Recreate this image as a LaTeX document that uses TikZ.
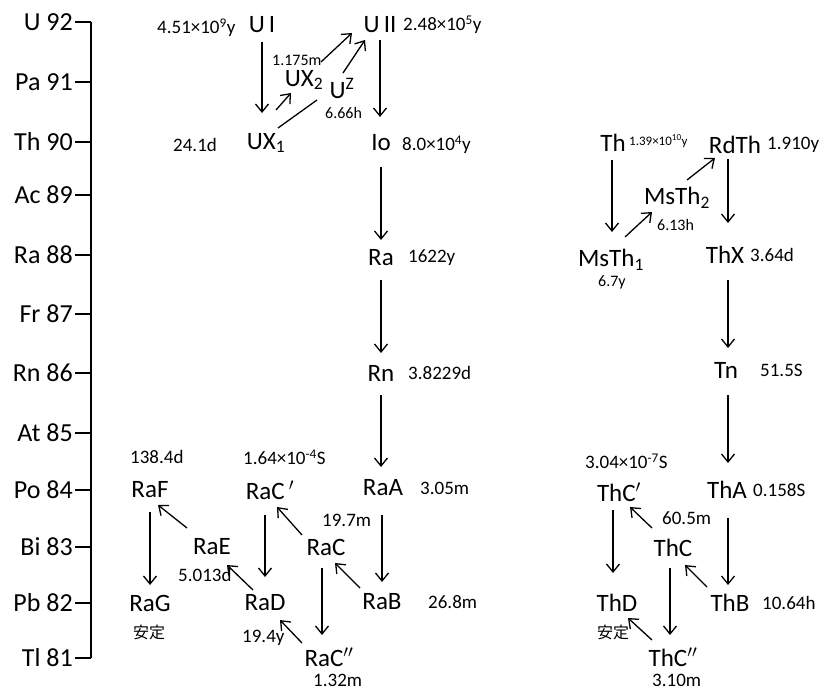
\documentclass[tikz,border=0pt]{standalone}
\usepackage{fontspec}
\setmainfont{Carlito}
\newfontfamily\cjk{Noto Sans CJK JP}
\usetikzlibrary{arrows.meta,calc}
\begin{document}
\begin{tikzpicture}[x=1pt,y=-1pt,
  el/.style={font=\fontsize{25}{28}\selectfont, inner sep=0pt},
  hl/.style={font=\fontsize{19}{22}\selectfont, inner sep=0pt, anchor=west},
  sm/.style={font=\fontsize{16}{18}\selectfont, inner sep=0pt, anchor=west},
  tiny/.style={font=\fontsize{13}{15}\selectfont, inner sep=0pt, anchor=west},
  stab/.style={font=\cjk\fontsize{16}{18}\selectfont, inner sep=0pt, anchor=west},
  axlab/.style={font=\fontsize{26}{29}\selectfont, inner sep=0pt, anchor=east},
  arr/.style={line width=1.3pt, -{Straight Barb[length=8pt,width=13pt,line width=1.3pt]}},
  plainline/.style={line width=1.3pt},
  axline/.style={line width=1.6pt}]
\fill[white] (0,0) rectangle (829,693);
\useasboundingbox (0,0) rectangle (829,693);

% ---------- axis ----------
\coordinate (axtop) at (91,22);
\coordinate (axbot) at (91,658);
\node[axlab] (l92) at (73,22) {U 92};
\node[axlab] (l91) at (73,82) {Pa 91};
\node[axlab] (l90) at (73,142) {Th 90};
\node[axlab] (l89) at (73,195) {Ac 89};
\node[axlab] (l88) at (73,255) {Ra 88};
\node[axlab] (l87) at (73,314) {Fr 87};
\node[axlab] (l86) at (73,373) {Rn 86};
\node[axlab] (l85) at (73,433) {At 85};
\node[axlab] (l84) at (73,490) {Po 84};
\node[axlab] (l83) at (73,547) {Bi 83};
\node[axlab] (l82) at (73,603) {Pb 82};
\node[axlab] (l81) at (73,658) {Tl 81};
\draw[axline] (axtop) -- (axbot);
\foreach \n in {92,91,90,89,88,87,86,85,84,83,82,81}
  \draw[axline] ([xshift=2pt]l\n.east) -- (l\n.east -| axtop);

% ---------- uranium series ----------
\node[el] (UI)  at (262,25) {U\,I};
\node[el] (UII) at (380,25) {U\,II};
\node[el] (UXa) at (266,143) {UX\textsubscript{1}};
\node[el] (UXb) at (304,80) {UX\textsubscript{2}};
\node[el] (UZ)  at (342,88) {U\textsuperscript{Z}};
\node[el] (Io)  at (381,143) {Io};
\node[el] (Ra)  at (381,258) {Ra};
\node[el] (Rn)  at (381,373) {Rn};
\node[el] (RaA) at (383,488) {RaA};
\node[el] (RaB) at (382,602) {RaB};
\node[el] (RaC) at (326,547) {RaC};
\node[el] (RaCp) at (270,490) {RaC\,$^{\prime}$};
\node[el] (RaCpp) at (329,657) {RaC$^{\prime\prime}$};
\node[el] (RaD) at (265,603) {RaD};
\node[el] (RaE) at (212,547) {RaE};
\node[el] (RaF) at (150,490) {RaF};
\node[el] (RaG) at (150,603) {RaG};

\node[hl] (hUI)  at (157,28) {4.51×10\textsuperscript{9}y};
\node[hl] (hUII) at (403,25) {2.48×10\textsuperscript{5}y};
\node[hl] (hUXa) at (173,145) {24.1d};
\node[sm] (hUXb) at (272,60) {1.175m};
\node[sm] (hUZ)  at (325,113) {6.66h};
\node[hl] (hIo)  at (402,145) {8.0×10\textsuperscript{4}y};
\node[hl] (hRa)  at (408,258) {1622y};
\node[hl] (hRn)  at (408,373) {3.8229d};
\node[hl] (hRaA) at (420,488) {3.05m};
\node[hl] (hRaC) at (322,520) {19.7m};
\node[hl] (hRaB) at (428,602) {26.8m};
\node[hl] (hRaCp) at (243,457) {1.64×10\textsuperscript{-4}S};
\node[hl] (hRaCpp) at (313,680) {1.32m};
\node[hl] (hRaD) at (242,638) {19.4y};
\node[hl] (hRaE) at (178,575) {5.013d};
\node[hl] (hRaF) at (130,457) {138.4d};
\node[stab] (sRaG) at (133,632) {安定};

% arrows
\draw[arr] ($(UI)+(0,17)$) -- ($(UXa)+(-4,-30)$);
\draw[arr] ($(UXa)+(10,-33)$) -- ($(UXb)+(-13,13)$);
\draw[arr] ($(UXb)+(17,-18)$) -- ($(UII)+(-28,8)$);
\draw[plainline] ($(UXa)+(12,-15)$) -- ($(UZ)+(-25,12)$);
\draw[arr] ($(UZ)+(1,-15)$) -- ($(UII)+(-15,15)$);
\draw[arr] ($(UII)+(0,15)$) -- ($(UII |- Io)+(0,-26)$);
\draw[arr] ($(Io)+(0,24)$) -- ($(Io |- Ra)+(0,-18)$);
\draw[arr] ($(Ra)+(0,22)$) -- ($(Ra |- Rn)+(0,-20)$);
\draw[arr] ($(Rn)+(0,22)$) -- ($(Rn |- RaA)+(0,-21)$);
\draw[arr] ($(RaA)+(-1,27)$) -- ($(RaA |- RaB)+(-1,-20)$);
\draw[arr] ($(RaB)+(-22,-14)$) -- ($(RaC)+(9,16)$);
\draw[arr] ($(RaC)+(-24,-12)$) -- ($(RaCp)+(7,17)$);
\draw[arr] ($(RaCp)+(-5,25)$) -- ($(RaCp |- RaD)+(-5,-26)$);
\draw[arr] ($(RaC)+(-4,21)$) -- ($(RaC |- RaCpp)+(-4,-22)$);
\draw[arr] ($(RaCpp)+(-27,-14)$) -- ($(RaD)+(15,17)$);
\draw[arr] ($(RaD)+(-12,-13)$) -- ($(RaE)+(15,18)$);
\draw[arr] ($(RaE)+(-25,-19)$) -- ($(RaF)+(8,15)$);
\draw[arr] ($(RaF)+(0,22)$) -- ($(RaF |- RaG)+(0,-18)$);

% ---------- thorium series ----------
\node[el] (Th)    at (613,143) {Th};
\node[el] (RdTh)  at (735,145) {RdTh};
\node[el] (MsTha) at (611,260) {MsTh\textsubscript{1}};
\node[el] (MsThb) at (677,198) {MsTh\textsubscript{2}};
\node[el] (ThX)   at (725,255) {ThX};
\node[el] (Tn)    at (726,370) {Tn};
\node[el] (ThA)   at (727,490) {ThA};
\node[el] (ThB)   at (730,603) {ThB};
\node[el] (ThC)   at (673,548) {ThC};
\node[el] (ThCp)  at (619,492) {ThC$^{\prime}$};
\node[el] (ThD)   at (617,603) {ThD};
\node[el] (ThCpp) at (673,657) {ThC$^{\prime\prime}$};

\node[tiny] (hTh)   at (629,141) {1.39×10\textsuperscript{10}y};
\node[hl] (hRdTh)   at (767,145) {1.910y};
\node[sm] (hMsTha)  at (598,282) {6.7y};
\node[sm] (hMsThb)  at (657,225) {6.13h};
\node[hl] (hThX)    at (750,255) {3.64d};
\node[hl] (hTn)     at (760,370) {51.5S};
\node[hl] (hThA)    at (753,490) {0.158S};
\node[hl] (hThB)    at (762,603) {10.64h};
\node[hl] (hThC)    at (662,518) {60.5m};
\node[hl] (hThCp)   at (585,461) {3.04×10\textsuperscript{-7}S};
\node[stab] (sThD)  at (597,632) {安定};
\node[hl] (hThCpp)  at (652,680) {3.10m};

\draw[arr] ($(Th)+(-1,17)$) -- ($(Th |- MsTha)+(-1,-28)$);
\draw[arr] ($(MsTha)+(14,-23)$) -- ($(MsThb)+(-25,14)$);
\draw[arr] ($(MsThb)+(10,-18)$) -- ($(RdTh)+(-20,13)$);
\draw[arr] ($(RdTh)+(-7,14)$) -- ($(RdTh |- ThX)+(-7,-32)$);
\draw[arr] ($(ThX)+(3,25)$) -- ($(ThX |- Tn)+(3,-22)$);
\draw[arr] ($(Tn)+(2,25)$) -- ($(Tn |- ThA)+(2,-27)$);
\draw[arr] ($(ThA)+(1,28)$) -- ($(ThA |- ThB)+(1,-18)$);
\draw[arr] ($(ThB)+(-23,-16)$) -- ($(ThC)+(12,17)$);
\draw[arr] ($(ThC)+(-21,-20)$) -- ($(ThCp)+(11,15)$);
\draw[arr] ($(ThCp)+(-6,18)$) -- ($(ThCp |- ThD)+(-6,-30)$);
\draw[arr] ($(ThC)+(-3,20)$) -- ($(ThC |- ThCpp)+(-3,-22)$);
\draw[arr] ($(ThCpp)+(-21,-17)$) -- ($(ThD)+(11,15)$);
\end{tikzpicture}
\end{document}
